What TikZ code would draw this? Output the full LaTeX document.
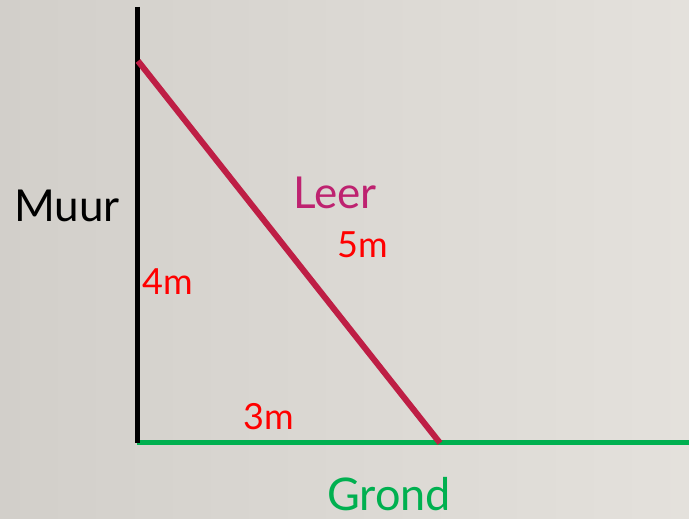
\documentclass[tikz,border=0pt]{standalone}
\usepackage{fontspec}
\setmainfont{Lato}
\definecolor{bgL}{HTML}{D2CFCA}
\definecolor{bgR}{HTML}{E4E1DC}
\definecolor{ladder}{HTML}{BE1E45}
\definecolor{leer}{HTML}{BE2270}
\definecolor{grond}{HTML}{00B050}
\definecolor{maat}{HTML}{FF0000}
\begin{document}
\begin{tikzpicture}[x=1pt,y=1pt,
  lbl/.style={anchor=base west,inner sep=0pt,font=\fontsize{44}{50}\selectfont},
  dim/.style={anchor=base west,inner sep=0pt,text=maat,font=\fontsize{36}{40}\selectfont}]
\shade[left color=bgL,right color=bgR] (0,0) rectangle (689,519);
\useasboundingbox (0,0) rectangle (689,519);
\coordinate (wallTop) at (137,512);
\coordinate (corner) at (137,76);
\coordinate (groundEnd) at (689,76);
\coordinate (ladTop) at (138,458);
\coordinate (ladFoot) at (440,76);
\draw[grond,line width=5pt] (corner) -- (groundEnd);
\draw[black,line width=5pt] (wallTop) -- (corner);
\draw[ladder,line width=6pt] (ladTop) -- (ladFoot);
\node[lbl] (muur) at (14,297) {Muur};
\node[lbl,text=leer] (leer) at (293,310) {Leer};
\node[lbl,text=grond,text depth=0pt,font=\fontsize{45}{50}\selectfont] (grondlbl) at (327,8) {Grond};
\node[dim] (m5) at (337,261) {5m};
\node[dim] (m4) at (142,224) {4m};
\node[dim] (m3) at (243,89) {3m};
\end{tikzpicture}
\end{document}
